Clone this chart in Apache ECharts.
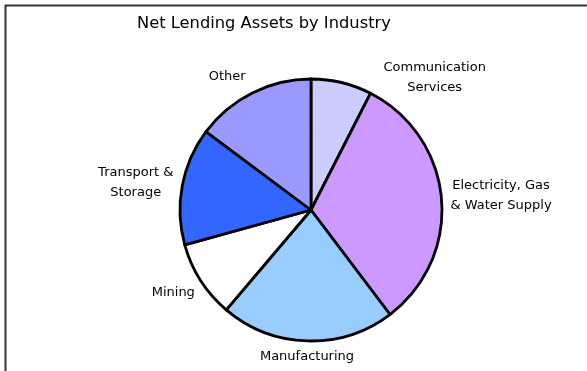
<!DOCTYPE html>
<html>
<head>
<meta charset="utf-8">
<script src="https://cdn.jsdelivr.net/npm/echarts@6/dist/echarts.min.js"></script>
<style>
  html, body { margin: 0; padding: 0; background: #fff; }
  #chart { width: 587px; height: 371px; }
</style>
</head>
<body>
<div id="chart"></div>
<script>
// 数据（顺时针，从12点方向开始）
var categories = [
  "Communication\nServices",
  "Electricity, Gas\n& Water Supply",
  "Manufacturing",
  "Mining",
  "Transport &\nStorage",
  "Other"
];
var values = [7.5, 32.2, 21.5, 9.5, 14.5, 14.8];
var colors = ["#CCCCFF", "#CC99FF", "#99CCFF", "#FFFFFF", "#3366FF", "#9999FF"];
// 标签相对默认位置的微调（像素）
var labelShift = [[35, 3], [-4, -2], [52, 8], [6, 8], [4, -2], [2, -9]];

var myChart = echarts.init(document.getElementById("chart"));

var pieData = categories.map(function (name, i) {
  return {
    name: name,
    value: values[i],
    itemStyle: { color: colors[i] }
  };
});

var option = {
  animation: false,
  backgroundColor: "#fff",
  title: {
    text: "Net Lending Assets by Industry",
    left: 132,
    top: 11,
    textStyle: {
      fontFamily: "DejaVu Sans",
      fontSize: 16.3,
      fontWeight: "normal",
      color: "#000"
    }
  },
  // 外框（右侧和底部超出画面）
  graphic: [
    {
      type: "rect",
      shape: { x: 5.5, y: 5.5, width: 2000, height: 2000 },
      style: { fill: null, stroke: "#333", lineWidth: 2 },
      silent: true
    }
  ],
  series: [
    {
      type: "pie",
      center: [311, 210],
      radius: 131,
      startAngle: 90,
      clockwise: true,
      avoidLabelOverlap: false,
      itemStyle: {
        borderColor: "#000",
        borderWidth: 2.8
      },
      label: {
        show: true,
        position: "outside",
        formatter: function (p) {
          return p.name.split("\n").map(function (s) { return "{c|" + s + "}"; }).join("\n");
        },
        rich: {
          c: {
            fontFamily: "DejaVu Sans",
            fontSize: 13,
            color: "#000",
            lineHeight: 20,
            align: "center"
          }
        }
      },
      labelLine: { show: false, length: 8, length2: 0 },
      labelLayout: function (params) {
        var s = labelShift[params.dataIndex];
        return { dx: s[0], dy: s[1] };
      },
      emphasis: { disabled: true },
      data: pieData
    }
  ]
};

myChart.setOption(option);
</script>
</body>
</html>
